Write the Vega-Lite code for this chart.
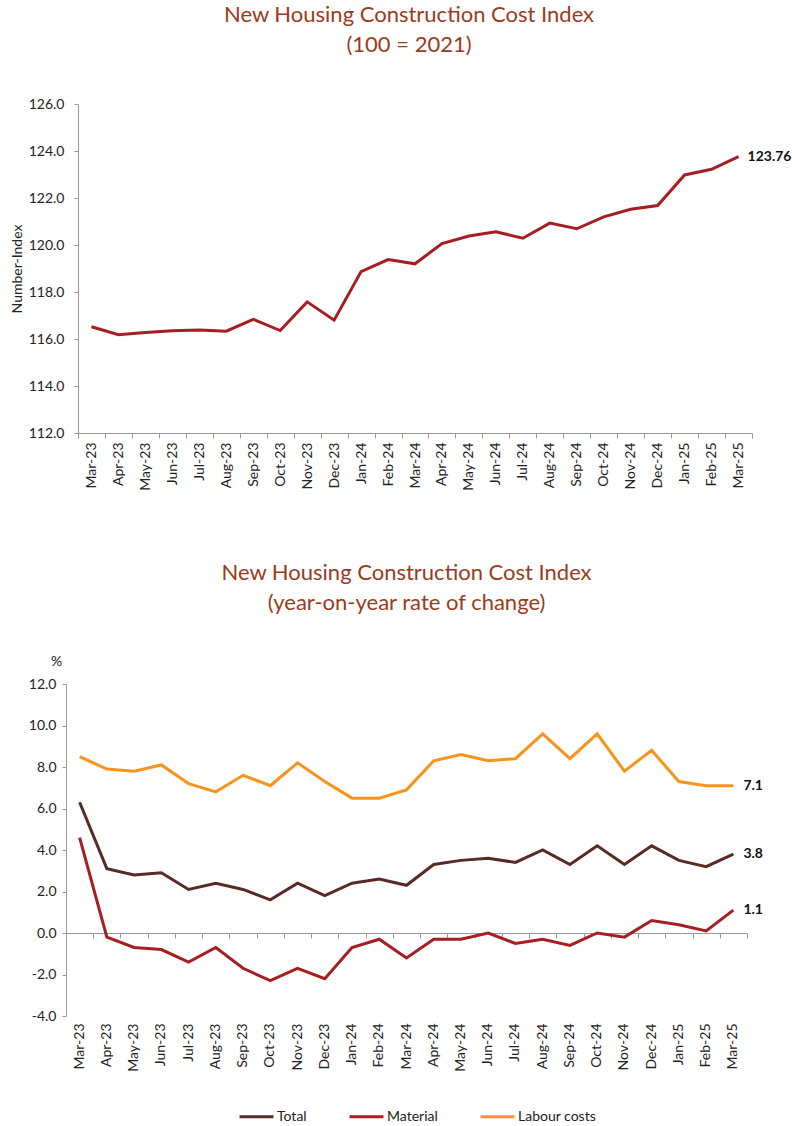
{
  "$schema": "https://vega.github.io/schema/vega-lite/v6.json",
  "padding": {"left": 10, "top": 4, "right": 5, "bottom": 5},
  "background": "white",
  "config": {"font": "Lato", "view": {"stroke": null}},
  "datasets": {
    "index": [
      {"month": "Mar-23", "value": 116.52}, {"month": "Apr-23", "value": 116.18}, {"month": "May-23", "value": 116.28},
      {"month": "Jun-23", "value": 116.35}, {"month": "Jul-23", "value": 116.38}, {"month": "Aug-23", "value": 116.33},
      {"month": "Sep-23", "value": 116.84}, {"month": "Oct-23", "value": 116.36}, {"month": "Nov-23", "value": 117.58},
      {"month": "Dec-23", "value": 116.8}, {"month": "Jan-24", "value": 118.87}, {"month": "Feb-24", "value": 119.38},
      {"month": "Mar-24", "value": 119.2}, {"month": "Apr-24", "value": 120.06}, {"month": "May-24", "value": 120.38},
      {"month": "Jun-24", "value": 120.56}, {"month": "Jul-24", "value": 120.29}, {"month": "Aug-24", "value": 120.93},
      {"month": "Sep-24", "value": 120.69}, {"month": "Oct-24", "value": 121.2}, {"month": "Nov-24", "value": 121.52},
      {"month": "Dec-24", "value": 121.68}, {"month": "Jan-25", "value": 122.98}, {"month": "Feb-25", "value": 123.22},
      {"month": "Mar-25", "value": 123.76}
    ],
    "yoy": [
      {"month": "Mar-23", "series": "Total", "value": 6.3}, {"month": "Apr-23", "series": "Total", "value": 3.1},
      {"month": "May-23", "series": "Total", "value": 2.8}, {"month": "Jun-23", "series": "Total", "value": 2.9},
      {"month": "Jul-23", "series": "Total", "value": 2.1}, {"month": "Aug-23", "series": "Total", "value": 2.4},
      {"month": "Sep-23", "series": "Total", "value": 2.1}, {"month": "Oct-23", "series": "Total", "value": 1.6},
      {"month": "Nov-23", "series": "Total", "value": 2.4}, {"month": "Dec-23", "series": "Total", "value": 1.8},
      {"month": "Jan-24", "series": "Total", "value": 2.4}, {"month": "Feb-24", "series": "Total", "value": 2.6},
      {"month": "Mar-24", "series": "Total", "value": 2.3}, {"month": "Apr-24", "series": "Total", "value": 3.3},
      {"month": "May-24", "series": "Total", "value": 3.5}, {"month": "Jun-24", "series": "Total", "value": 3.6},
      {"month": "Jul-24", "series": "Total", "value": 3.4}, {"month": "Aug-24", "series": "Total", "value": 4.0},
      {"month": "Sep-24", "series": "Total", "value": 3.3}, {"month": "Oct-24", "series": "Total", "value": 4.2},
      {"month": "Nov-24", "series": "Total", "value": 3.3}, {"month": "Dec-24", "series": "Total", "value": 4.2},
      {"month": "Jan-25", "series": "Total", "value": 3.5}, {"month": "Feb-25", "series": "Total", "value": 3.2},
      {"month": "Mar-25", "series": "Total", "value": 3.8},
      {"month": "Mar-23", "series": "Material", "value": 4.6}, {"month": "Apr-23", "series": "Material", "value": -0.2},
      {"month": "May-23", "series": "Material", "value": -0.7}, {"month": "Jun-23", "series": "Material", "value": -0.8},
      {"month": "Jul-23", "series": "Material", "value": -1.4}, {"month": "Aug-23", "series": "Material", "value": -0.7},
      {"month": "Sep-23", "series": "Material", "value": -1.7}, {"month": "Oct-23", "series": "Material", "value": -2.3},
      {"month": "Nov-23", "series": "Material", "value": -1.7}, {"month": "Dec-23", "series": "Material", "value": -2.2},
      {"month": "Jan-24", "series": "Material", "value": -0.7}, {"month": "Feb-24", "series": "Material", "value": -0.3},
      {"month": "Mar-24", "series": "Material", "value": -1.2}, {"month": "Apr-24", "series": "Material", "value": -0.3},
      {"month": "May-24", "series": "Material", "value": -0.3}, {"month": "Jun-24", "series": "Material", "value": 0.0},
      {"month": "Jul-24", "series": "Material", "value": -0.5}, {"month": "Aug-24", "series": "Material", "value": -0.3},
      {"month": "Sep-24", "series": "Material", "value": -0.6}, {"month": "Oct-24", "series": "Material", "value": 0.0},
      {"month": "Nov-24", "series": "Material", "value": -0.2}, {"month": "Dec-24", "series": "Material", "value": 0.6},
      {"month": "Jan-25", "series": "Material", "value": 0.4}, {"month": "Feb-25", "series": "Material", "value": 0.1},
      {"month": "Mar-25", "series": "Material", "value": 1.1},
      {"month": "Mar-23", "series": "Labour costs", "value": 8.5}, {"month": "Apr-23", "series": "Labour costs", "value": 7.9},
      {"month": "May-23", "series": "Labour costs", "value": 7.8}, {"month": "Jun-23", "series": "Labour costs", "value": 8.1},
      {"month": "Jul-23", "series": "Labour costs", "value": 7.2}, {"month": "Aug-23", "series": "Labour costs", "value": 6.8},
      {"month": "Sep-23", "series": "Labour costs", "value": 7.6}, {"month": "Oct-23", "series": "Labour costs", "value": 7.1},
      {"month": "Nov-23", "series": "Labour costs", "value": 8.2}, {"month": "Dec-23", "series": "Labour costs", "value": 7.3},
      {"month": "Jan-24", "series": "Labour costs", "value": 6.5}, {"month": "Feb-24", "series": "Labour costs", "value": 6.5},
      {"month": "Mar-24", "series": "Labour costs", "value": 6.9}, {"month": "Apr-24", "series": "Labour costs", "value": 8.3},
      {"month": "May-24", "series": "Labour costs", "value": 8.6}, {"month": "Jun-24", "series": "Labour costs", "value": 8.3},
      {"month": "Jul-24", "series": "Labour costs", "value": 8.4}, {"month": "Aug-24", "series": "Labour costs", "value": 9.6},
      {"month": "Sep-24", "series": "Labour costs", "value": 8.4}, {"month": "Oct-24", "series": "Labour costs", "value": 9.6},
      {"month": "Nov-24", "series": "Labour costs", "value": 7.8}, {"month": "Dec-24", "series": "Labour costs", "value": 8.8},
      {"month": "Jan-25", "series": "Labour costs", "value": 7.3}, {"month": "Feb-25", "series": "Labour costs", "value": 7.1},
      {"month": "Mar-25", "series": "Labour costs", "value": 7.1}
    ]
  },
  "spacing": 71,
  "vconcat": [
    {
      "width": 686,
      "height": 329,
      "title": {"text": ["New Housing Construction Cost Index", "(100 = 2021)"], "fontSize": 22, "font": "Lato", "fontWeight": "normal", "color": "#993C1D", "lineHeight": 30, "offset": 40, "anchor": "middle"},
      "data": {"name": "index"},
      "layer": [
        {
          "mark": {"type": "line", "color": "#A51E22", "strokeWidth": 3},
          "encoding": {
            "x": {"field": "month", "type": "ordinal", "bandPosition": 0.5,
              "scale": {"type": "band", "paddingInner": 0, "paddingOuter": 0, "range": [12, 686],
                "domain": ["Mar-23","Apr-23","May-23","Jun-23","Jul-23","Aug-23","Sep-23","Oct-23","Nov-23","Dec-23","Jan-24","Feb-24","Mar-24","Apr-24","May-24","Jun-24","Jul-24","Aug-24","Sep-24","Oct-24","Nov-24","Dec-24","Jan-25","Feb-25","Mar-25"]},
              "axis": {"title": null, "labelAngle": -90, "labelFontSize": 14, "labelColor": "#222", "tickBand": "extent", "tickSize": 5, "domainColor": "#999", "tickColor": "#999", "labelPadding": 4}},
            "y": {"field": "value", "type": "quantitative",
              "scale": {"domain": [112, 126], "zero": false, "nice": false},
              "axis": {"title": "Number-Index", "titleFontSize": 14, "titleFontWeight": "normal", "titleColor": "#222", "titlePadding": 4,
                "values": [112, 114, 116, 118, 120, 122, 124, 126], "format": ".1f", "labelFontSize": 14, "labelColor": "#222",
                "grid": false, "tickSize": 4, "labelPadding": 10, "domainColor": "#999", "tickColor": "#999", "offset": -12}}
          }
        },
        {
          "transform": [{"filter": "datum.month === 'Mar-25'"}],
          "mark": {"type": "text", "align": "left", "dx": 9, "fontWeight": "bold", "fontSize": 14, "color": "#111"},
          "encoding": {
            "x": {"field": "month", "type": "ordinal", "bandPosition": 0.5},
            "y": {"field": "value", "type": "quantitative"},
            "text": {"field": "value", "type": "quantitative", "format": ".2f"}
          }
        }
      ]
    },
    {
      "width": 681,
      "height": 332,
      "title": {"text": ["New Housing Construction Cost Index", "(year-on-year rate of change)"], "fontSize": 22, "font": "Lato", "fontWeight": "normal", "color": "#993C1D", "lineHeight": 30, "offset": 39, "anchor": "middle"},
      "data": {"name": "yoy"},
      "resolve": {"axis": {"x": "independent"}},
      "layer": [
        {
          "mark": {"type": "line", "strokeWidth": 3},
          "encoding": {
            "x": {"field": "month", "type": "ordinal", "bandPosition": 0.5,
              "scale": {"type": "band", "paddingInner": 0, "paddingOuter": 0,
                "domain": ["Mar-23","Apr-23","May-23","Jun-23","Jul-23","Aug-23","Sep-23","Oct-23","Nov-23","Dec-23","Jan-24","Feb-24","Mar-24","Apr-24","May-24","Jun-24","Jul-24","Aug-24","Sep-24","Oct-24","Nov-24","Dec-24","Jan-25","Feb-25","Mar-25"]},
              "axis": {"title": null, "orient": "bottom", "labelAngle": -90, "labelFontSize": 14, "labelColor": "#222", "ticks": false, "domain": false, "labelPadding": 7}},
            "y": {"field": "value", "type": "quantitative",
              "scale": {"domain": [-4, 12], "nice": false},
              "axis": {"title": "%", "titleAngle": 0, "titleFontSize": 14, "titleFontWeight": "normal", "titleColor": "#222",
                "titleX": -10, "titleY": -16, "titleAlign": "center", "titleBaseline": "bottom",
                "values": [-4, -2, 0, 2, 4, 6, 8, 10, 12], "labelExpr": "replace(format(datum.value, '.1f'), '\u2212', '-')",
                "labelFontSize": 14, "labelColor": "#222", "grid": false, "tickSize": 4, "labelPadding": 6, "domainColor": "#999", "tickColor": "#999"}},
            "color": {"field": "series", "type": "nominal",
              "scale": {"domain": ["Total", "Material", "Labour costs"], "range": ["#5A2A27", "#A51E22", "#F7941D"]},
              "legend": {"title": null, "orient": "none", "legendX": 172, "legendY": 994, "direction": "horizontal", "symbolType": "stroke", "symbolStrokeWidth": 3,
                "symbolSize": 1150, "labelFontSize": 14, "labelColor": "#222", "columnPadding": 36, "labelOffset": 2}}
          }
        },
        {
          "transform": [{"filter": "datum.month === 'Mar-25'"}],
          "mark": {"type": "text", "align": "left", "dx": 10, "fontWeight": "bold", "fontSize": 14, "color": "#111"},
          "encoding": {
            "x": {"field": "month", "type": "ordinal", "bandPosition": 0.5,
              "axis": {"title": null, "orient": "bottom", "labels": false, "tickBand": "extent", "tickSize": 5, "domainColor": "#999", "tickColor": "#999", "offset": -83}},
            "y": {"field": "value", "type": "quantitative"},
            "text": {"field": "value", "type": "quantitative", "format": ".1f"}
          }
        }
      ]
    }
  ]
}
